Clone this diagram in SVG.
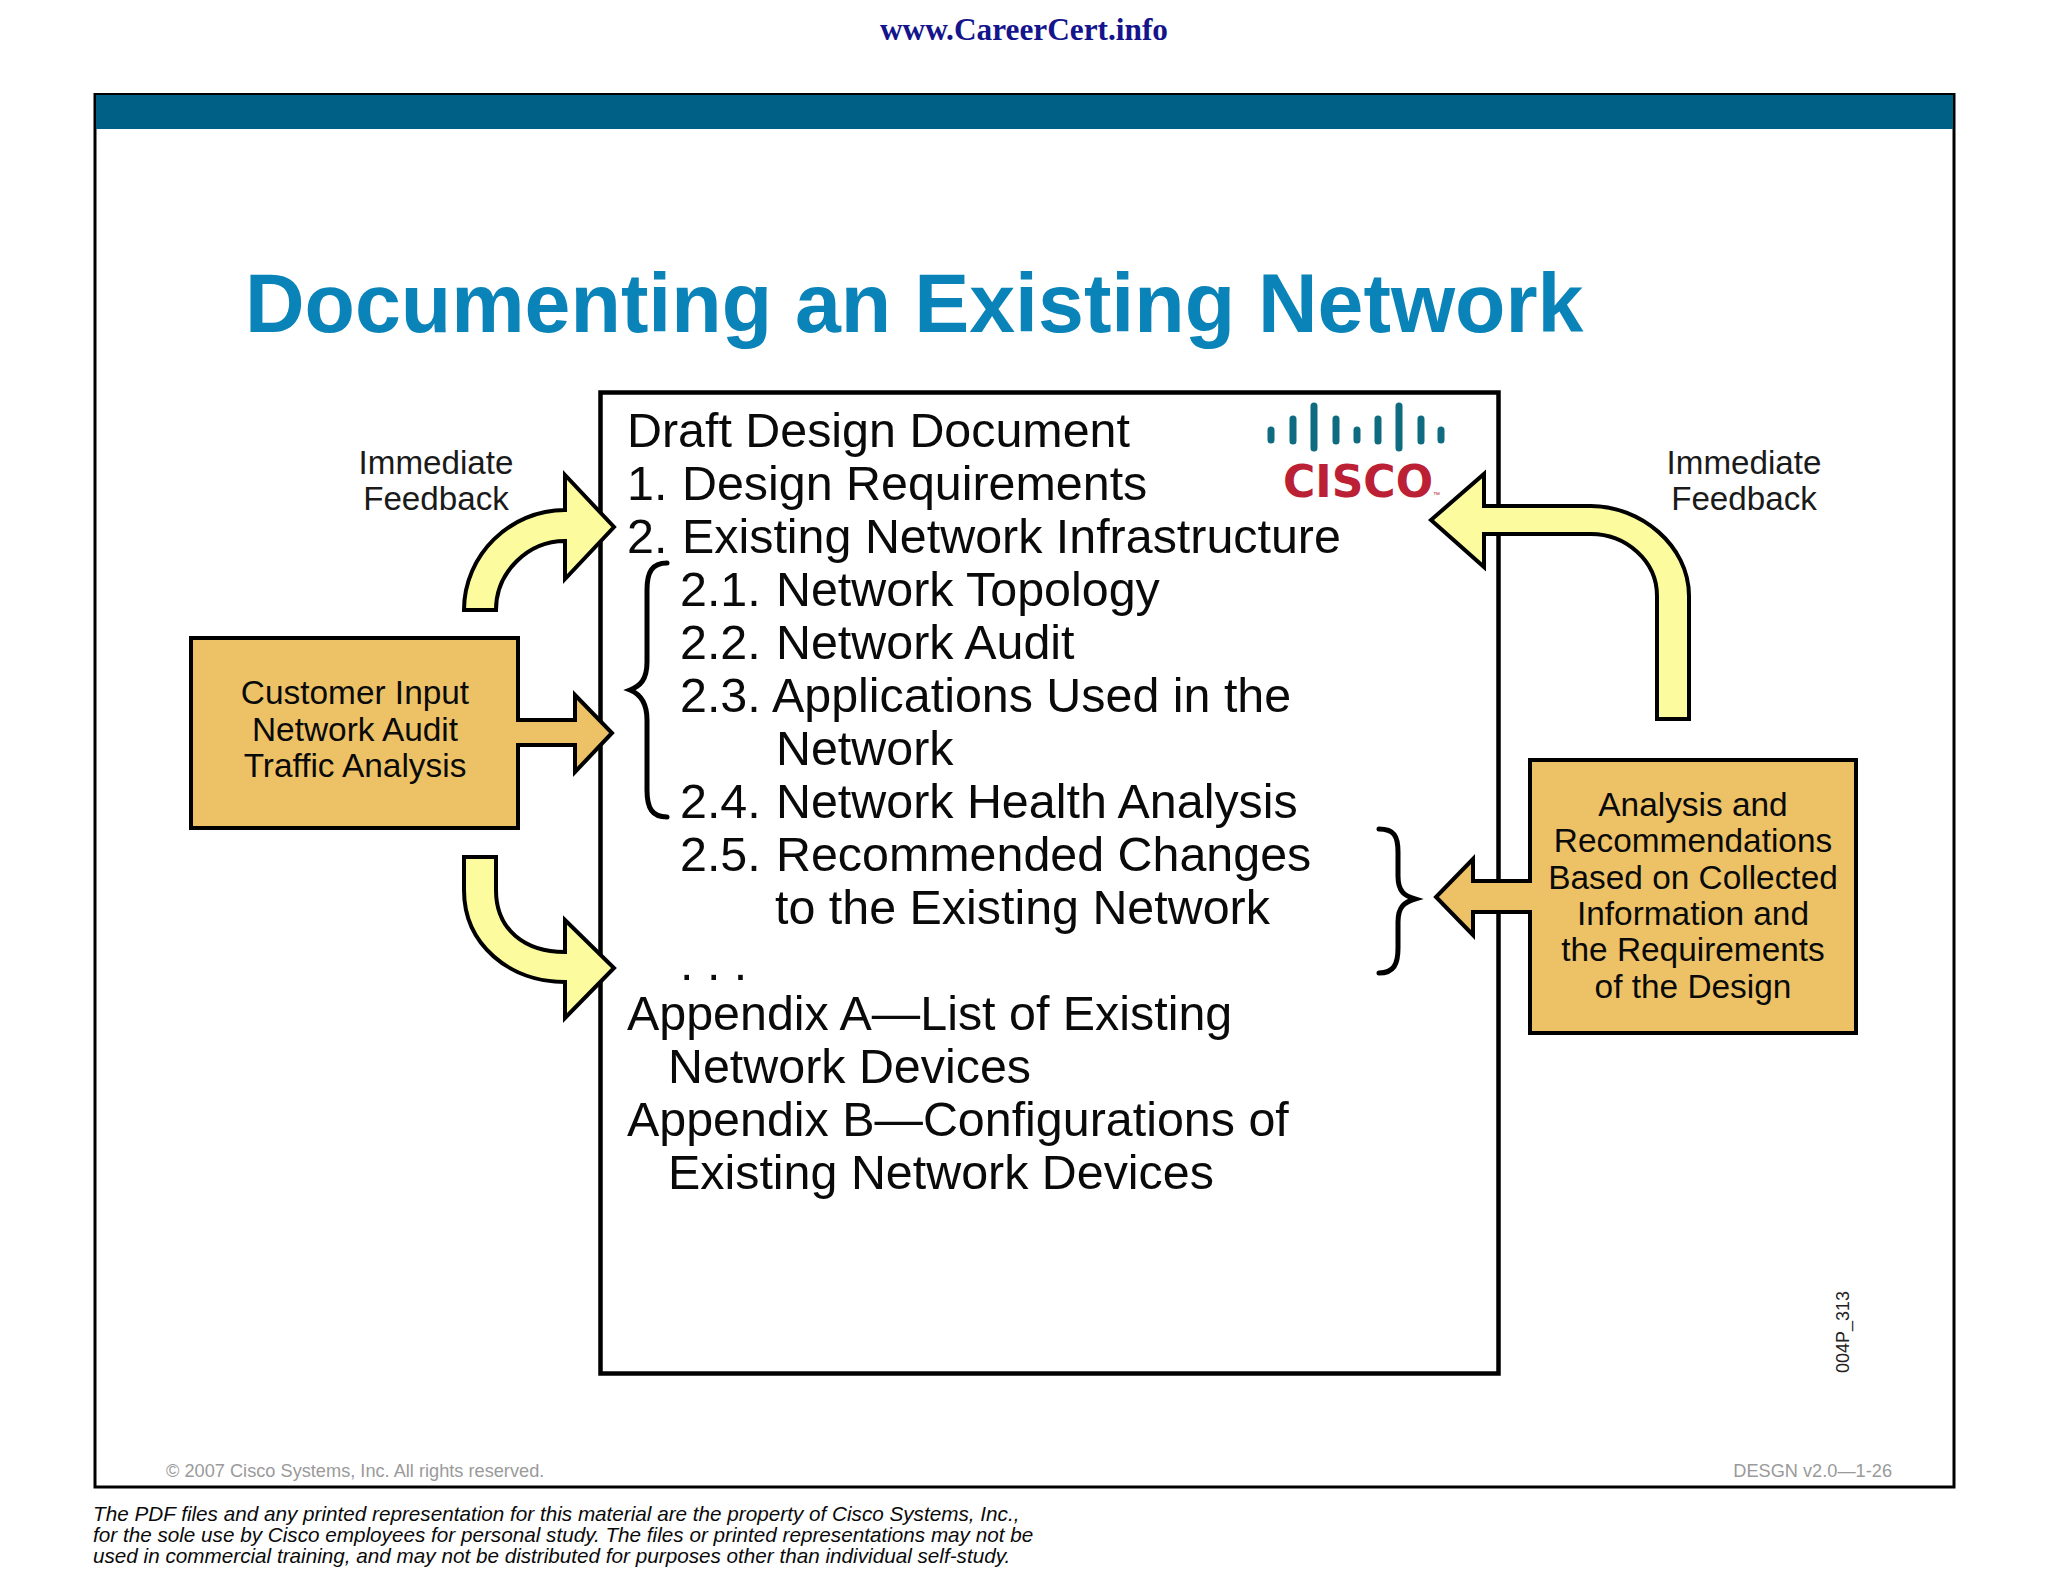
<svg xmlns="http://www.w3.org/2000/svg" width="2048" height="1582" viewBox="0 0 2048 1582">
<style>
text{font-family:"Liberation Sans",Arial,sans-serif;fill:#0a0a0a}
.m{font-size:48.400px}
.b{font-size:33.400px;text-anchor:middle}
.f{font-size:33.200px;text-anchor:middle;fill:#1a1a1a}
.d{font-size:20.700px;font-style:italic}
.c{font-size:18.200px;fill:#9a9a9a}
.ya{fill:#fcfc9e;stroke:#000;stroke-width:4;stroke-linejoin:miter}
.or{fill:#edc266;stroke:#000;stroke-width:4;stroke-linejoin:miter}
.br{fill:none;stroke:#000;stroke-width:5;stroke-linecap:round}
.bar{stroke:#0f6b80;stroke-width:7;stroke-linecap:round}
</style>
<rect width="2048" height="1582" fill="#fff"/>
<text x="1024" y="40" text-anchor="middle" style="font-family:'Liberation Serif',serif;font-weight:bold;font-size:31.300px;fill:#14148c">www.CareerCert.info</text>
<g id="slide-frame">
<rect x="95" y="94.500" width="1859" height="1392.500" fill="#fff" stroke="#000" stroke-width="3"/>
<rect x="96" y="95" width="1857" height="34" fill="#006085"/>
</g>
<text id="title" x="245" y="332" style="font-weight:bold;font-size:82.500px;fill:#0a84b8">Documenting an Existing Network</text>
<g id="document">
<rect x="600.500" y="392.500" width="898" height="981" fill="#fff" stroke="#000" stroke-width="4.500"/>
<text class="m" x="627" y="447">Draft Design Document</text>
<text class="m" x="627" y="500">1.</text><text class="m" x="682" y="500">Design Requirements</text>
<text class="m" x="627" y="553">2.</text><text class="m" x="682" y="553">Existing Network Infrastructure</text>
<text class="m" x="680" y="606">2.1.</text><text class="m" x="776" y="606">Network Topology</text>
<text class="m" x="680" y="659">2.2.</text><text class="m" x="776" y="659">Network Audit</text>
<text class="m" x="680" y="712">2.3.</text><text class="m" x="772" y="712">Applications Used in the</text>
<text class="m" x="776" y="765">Network</text>
<text class="m" x="680" y="818">2.4.</text><text class="m" x="776" y="818">Network Health Analysis</text>
<text class="m" x="680" y="871">2.5.</text><text class="m" x="776" y="871">Recommended Changes</text>
<text class="m" x="775" y="924">to the Existing Network</text>
<text class="m" x="680" y="980" xml:space="preserve">. . .</text>
<text class="m" x="627" y="1030">Appendix A—List of Existing</text>
<text class="m" x="668" y="1083">Network Devices</text>
<text class="m" x="627" y="1136">Appendix B—Configurations of</text>
<text class="m" x="668" y="1189">Existing Network Devices</text>
<text x="1849" y="1373" transform="rotate(-90 1849 1373)" style="font-size:18px;fill:#222">004P_313</text>
</g>
<g id="cisco-logo">
<path class="bar" d="M1271,430V440M1293,419V441M1314,406V448M1336,419V441M1357,430V440M1378,419V441M1399,406V448M1421,419V441M1441,430V440"/>
<text x="1283" y="497" style="font-family:'DejaVu Sans',sans-serif;font-weight:bold;font-size:44px;fill:#bb2035">CISCO</text>
<text x="1433" y="497" style="font-size:7px;fill:#bb2035">™</text>
</g>
<g id="connectors">
<path class="ya" d="M464,610C464,555 510,510 565,510V475L614,527L565,579V541C528,541 496,572 496,610Z"/>
<path class="ya" d="M464,857V890C464,945 510,982 565,982V1018L614,968L565,920V952C525,952 496,930 496,890V857Z"/>
<path class="ya" d="M1657,719H1689V596C1689,545 1640,506 1591,506H1484V474L1431,520L1484,567V534H1591C1625,534 1657,560 1657,596Z"/>
<path class="br" d="M667,563C652,563 647,572 647,590V662C647,680 640,686 630,690C640,694 647,702 647,720V790C647,808 652,817 667,817"/>
<path class="br" d="M1379,829C1394,829 1398,836 1398,852V876C1398,892 1405,896 1415,899C1405,902 1398,906 1398,922V948C1398,964 1394,973 1379,973"/>
</g>
<g id="customer-input">
<path class="or" d="M191,638H518V720H575V695L612,733L575,772V745H518V828H191Z"/>
<text class="b" x="355" y="704">Customer Input</text>
<text class="b" x="355" y="741">Network Audit</text>
<text class="b" x="355" y="777">Traffic Analysis</text>
</g>
<g id="analysis">
<path class="or" d="M1530,760H1856V1033H1530V912H1473V935L1436,897L1473,859V881H1530Z"/>
<text class="b" x="1693" y="816">Analysis and</text>
<text class="b" x="1693" y="852">Recommendations</text>
<text class="b" x="1693" y="889">Based on Collected</text>
<text class="b" x="1693" y="925">Information and</text>
<text class="b" x="1693" y="961">the Requirements</text>
<text class="b" x="1693" y="998">of the Design</text>
</g>
<g id="feedback-left"><text class="f" x="436" y="474">Immediate</text><text class="f" x="436" y="510">Feedback</text></g>
<g id="feedback-right"><text class="f" x="1744" y="474">Immediate</text><text class="f" x="1744" y="510">Feedback</text></g>
<g id="footer">
<text class="c" x="166" y="1477">© 2007 Cisco Systems, Inc. All rights reserved.</text>
<text class="c" x="1892" y="1477" text-anchor="end">DESGN v2.0—1-26</text>
<text class="d" x="93" y="1521">The PDF files and any printed representation for this material are the property of Cisco Systems, Inc.,</text>
<text class="d" x="93" y="1542">for the sole use by Cisco employees for personal study. The files or printed representations may not be</text>
<text class="d" x="93" y="1563">used in commercial training, and may not be distributed for purposes other than individual self-study.</text>
</g>
</svg>
